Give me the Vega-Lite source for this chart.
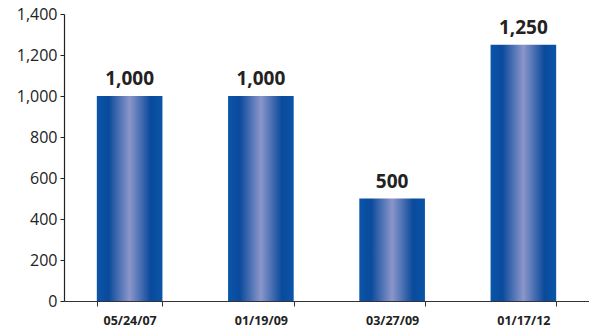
{
  "$schema": "https://vega.github.io/schema/vega-lite/v6.json",
  "width": 525,
  "height": 287,
  "autosize": "none",
  "padding": {"left": 64, "top": 14, "right": 0, "bottom": 30},
  "background": "white",
  "config": {"view": {"stroke": null}, "font": "Open Sans"},
  "data": {"values": [
    {"date": "05/24/07", "value": 1000},
    {"date": "01/19/09", "value": 1000},
    {"date": "03/27/09", "value": 500},
    {"date": "01/17/12", "value": 1250}
  ]},
  "encoding": {
    "x": {"field": "date", "type": "nominal", "sort": null,
      "scale": {"paddingInner": 0.5, "paddingOuter": 0.25},
      "axis": {"title": null, "labelAngle": 0, "tickBand": "extent", "domainColor": "#333", "tickColor": "#333",
        "labelFont": "Open Sans", "labelFontWeight": "bold", "labelFontSize": 12.5, "labelColor": "#222",
        "labelPadding": 8, "tickSize": 5, "domainWidth": 1.2}},
    "y": {"field": "value", "type": "quantitative",
      "scale": {"domain": [0, 1400]},
      "axis": {"title": null, "values": [0, 200, 400, 600, 800, 1000, 1200, 1400], "format": ",.0f", "grid": false,
        "domainColor": "#222", "tickColor": "#222", "tickSize": 4, "labelFont": "Open Sans", "labelFontSize": 16,
        "labelColor": "#222", "labelPadding": 3, "domainWidth": 1.2}}
  },
  "layer": [
    {"mark": {"type": "bar", "color": {"gradient": "linear", "x1": 0, "x2": 1, "y1": 0, "y2": 0,
      "stops": [
        {"offset": 0, "color": "#0a55a8"},
        {"offset": 0.18, "color": "#0a4a9c"},
        {"offset": 0.5, "color": "#8b96ca"},
        {"offset": 0.82, "color": "#0a4a9c"},
        {"offset": 1, "color": "#0a55a8"}
      ]}}},
    {"mark": {"type": "text", "baseline": "bottom", "dy": -7, "fontSize": 19, "fontWeight": "bold", "color": "#222", "font": "Open Sans"},
      "encoding": {"text": {"field": "value", "type": "quantitative", "format": ",.0f"}}}
  ]
}
